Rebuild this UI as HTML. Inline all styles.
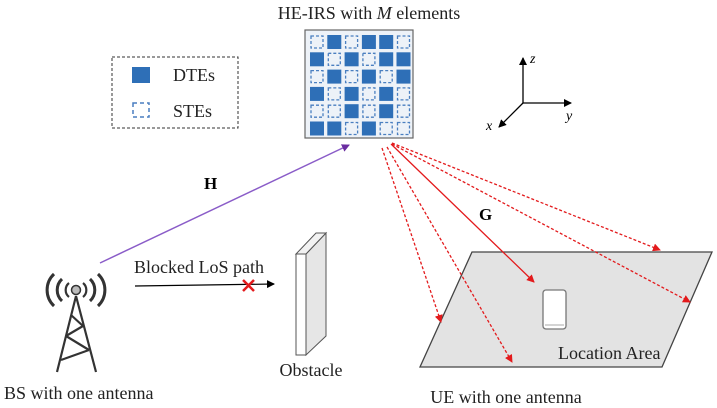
<!DOCTYPE html>
<html><head><meta charset="utf-8"><style>
html,body{margin:0;padding:0;background:#fff;}
svg{display:block;font-family:"Liberation Serif",serif;}
</style></head><body>
<svg width="717" height="408" viewBox="0 0 717 408" xmlns="http://www.w3.org/2000/svg">
<defs>
<marker id="ar" markerWidth="8" markerHeight="8" refX="7" refY="4" orient="auto" markerUnits="userSpaceOnUse"><path d="M0,0 L8,4 L0,8 z" fill="#e31a1c"/></marker>
<marker id="ab" markerWidth="8" markerHeight="8" refX="7" refY="4" orient="auto" markerUnits="userSpaceOnUse"><path d="M0,0 L8,4 L0,8 z" fill="#000"/></marker>
<marker id="ap" markerWidth="8" markerHeight="8" refX="7" refY="4" orient="auto" markerUnits="userSpaceOnUse"><path d="M0,0 L8,4 L0,8 z" fill="#6a2ca0"/></marker>
</defs>
<text x="369" y="19" font-size="18" text-anchor="middle" fill="#222">HE-IRS with <tspan font-style="italic">M</tspan> elements</text>
<rect x="305" y="30" width="108" height="108" fill="#edf2f8" stroke="#666" stroke-width="1.2"/>
<g id="grid"></g>
<!-- legend -->
<rect x="112" y="57" width="126" height="71" fill="none" stroke="#333" stroke-dasharray="3,2"/>
<rect x="132" y="67" width="18" height="16" fill="#2e6fb7"/>
<text x="173" y="81" font-size="18" fill="#222">DTEs</text>
<rect x="133" y="103" width="16" height="14" fill="none" stroke="#4a7fc0" stroke-width="1.5" stroke-dasharray="4,3"/>
<text x="173" y="117" font-size="18" fill="#222">STEs</text>
<!-- axes -->
<g stroke="#000" stroke-width="1.3">
<line x1="523" y1="103" x2="523" y2="58" marker-end="url(#ab)"/>
<line x1="523" y1="103" x2="571" y2="103" marker-end="url(#ab)"/>
<line x1="523" y1="103" x2="499" y2="127" marker-end="url(#ab)"/>
</g>
<text x="530" y="63" font-size="14" font-style="italic">z</text>
<text x="566" y="120" font-size="14" font-style="italic">y</text>
<text x="486" y="130" font-size="14" font-style="italic">x</text>
<!-- H -->
<line x1="100" y1="263" x2="349" y2="145" stroke="#8a5cc8" stroke-width="1.5" marker-end="url(#ap)"/>
<text x="204" y="189" font-size="17" font-weight="bold">H</text>
<!-- location area -->
<polygon points="472,252 712,252 662,367 420,367" fill="#e3e3e3" stroke="#444" stroke-width="1.3"/>
<rect x="543" y="290" width="23" height="39" rx="3" fill="#fff" stroke="#777" stroke-width="1.3"/>
<line x1="545" y1="325" x2="564" y2="325" stroke="#aaa"/>
<text x="558" y="359" font-size="18" fill="#222">Location Area</text>
<text x="506" y="403" font-size="18" text-anchor="middle" fill="#222">UE with one antenna</text>
<!-- red lines -->
<g stroke="#e31a1c" stroke-width="1.3" fill="none">
<line x1="391" y1="144" x2="534" y2="282" marker-end="url(#ar)"/>
<g stroke-dasharray="3,2">
<line x1="392" y1="143" x2="660" y2="250" marker-end="url(#ar)"/>
<line x1="392" y1="144" x2="690" y2="302" marker-end="url(#ar)"/>
<line x1="382" y1="148" x2="441" y2="322" marker-end="url(#ar)"/>
<line x1="387" y1="147" x2="512" y2="362" marker-end="url(#ar)"/>
</g></g>
<text x="479" y="220" font-size="17" font-weight="bold">G</text>
<!-- obstacle -->
<polygon points="306,254 326,233 326,336 306,355" fill="#e6e6e6" stroke="#555"/>
<polygon points="296,254 306,254 326,233 316,233" fill="#f2f2f2" stroke="#555"/>
<rect x="296" y="254" width="10" height="101" fill="#fff" stroke="#555"/>
<text x="311" y="376" font-size="18" text-anchor="middle" fill="#222">Obstacle</text>
<!-- blocked -->
<text x="134" y="273" font-size="18" fill="#222">Blocked LoS path</text>
<line x1="135" y1="286" x2="274" y2="284" stroke="#000" stroke-width="1.2" marker-end="url(#ab)"/>
<g stroke="#e31a1c" stroke-width="2.5"><line x1="243" y1="280" x2="254" y2="291"/><line x1="254" y1="280" x2="243" y2="291"/></g>
<!-- tower -->
<g stroke="#333" stroke-width="2.2" fill="none">
<line x1="76" y1="296" x2="57" y2="372"/><line x1="76" y1="296" x2="96" y2="372"/>
<line x1="71" y1="315" x2="83" y2="326"/><line x1="83" y1="326" x2="66" y2="336"/>
<line x1="66" y1="336" x2="89" y2="350"/><line x1="89" y1="350" x2="61" y2="360"/>
<path d="M69,283 A9,9 0 0 0 69,297"/><path d="M83,283 A9,9 0 0 1 83,297"/>
<path d="M62,279 A15,15 0 0 0 62,301" stroke-width="3"/><path d="M90,279 A15,15 0 0 1 90,301" stroke-width="3"/>
<path d="M54,274 A22,22 0 0 0 54,306" stroke-width="3"/><path d="M98,274 A22,22 0 0 1 98,306" stroke-width="3"/>
</g>
<circle cx="76" cy="290" r="4.5" fill="#bbb" stroke="#333" stroke-width="1.5"/>
<text x="4" y="399" font-size="18" fill="#222">BS with one antenna</text>
<script>
var p=["SDSDDS","DSDSDD","SDSDSD","DSDSDS","SSDSDS","DDSDSS"];
var g=document.getElementById("grid"),ns="http://www.w3.org/2000/svg";
for(var r=0;r<6;r++)for(var c=0;c<6;c++){var e=document.createElementNS(ns,"rect");
var x=310+c*17.3,y=35+r*17.3;
if(p[r][c]=="D"){e.setAttribute("x",x);e.setAttribute("y",y);e.setAttribute("width",14);e.setAttribute("height",14);e.setAttribute("fill","#2e6fb7");}
else{e.setAttribute("x",x+1);e.setAttribute("y",y+1);e.setAttribute("width",12);e.setAttribute("height",12);e.setAttribute("fill","none");e.setAttribute("stroke","#4a7fc0");e.setAttribute("stroke-width","1.3");e.setAttribute("stroke-dasharray","3,2");}
g.appendChild(e);}
</script>
</svg>
</body></html>
